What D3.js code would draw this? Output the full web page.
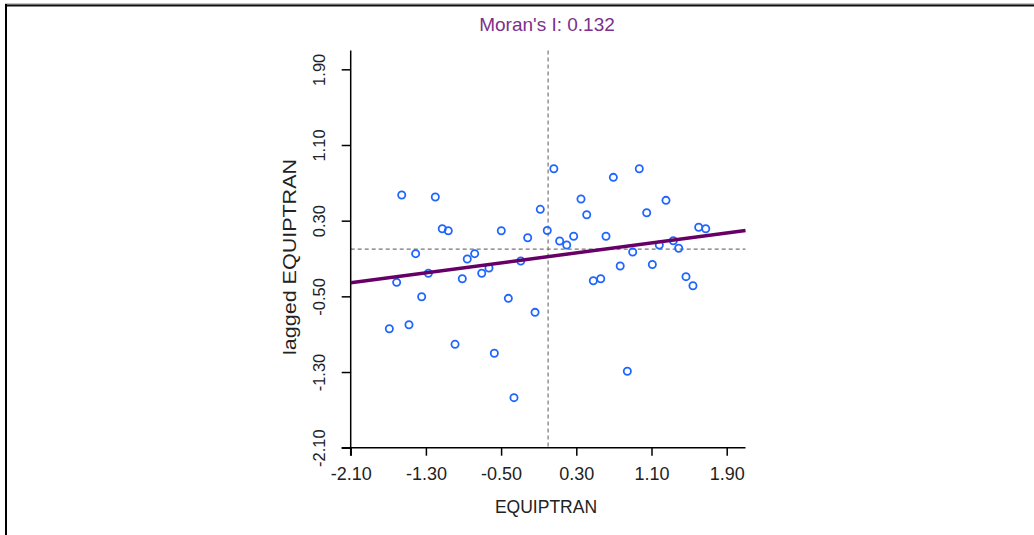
<!DOCTYPE html>
<html>
<head>
<meta charset="utf-8">
<script src="https://cdn.jsdelivr.net/npm/d3@7/dist/d3.min.js"></script>
<style>
  html, body { margin: 0; padding: 0; background: #fff; }
  svg { display: block; }
  text { font-family: "Liberation Sans", Arial, sans-serif; }
</style>
</head>
<body>
<svg id="chart" width="1034" height="535"></svg>
<script>
// ---- data ----
const titleText = "Moran's I: 0.132";
const xLabel = "EQUIPTRAN";
const yLabel = "lagged EQUIPTRAN";
const tickValues = [-2.10, -1.30, -0.50, 0.30, 1.10, 1.90];
const xValues = [-1.557, -1.200, -1.126, -1.062, -0.498, -0.217, -0.083, -0.009, 0.061, -1.409,
                 -0.860, -0.781, -0.291, 0.694, 0.970, 0.350, 1.254, 0.411, 1.049, 0.123,
                 0.198, 0.272, 0.616, 1.602, 1.677, 1.332, 1.389, 1.183, 0.900, 0.767,
                 1.109, -1.274, -1.611, -0.913, -0.706, -0.629, -1.345, -0.423, -0.139, -1.689,
                 -1.480, -0.990, -0.572, -0.363, 0.481, 0.560, 1.467, 1.541, 0.843];
const yValues = [0.571, 0.550, 0.215, 0.194, 0.194, 0.120, 0.420, 0.196, 0.849, -0.049,
                 -0.105, -0.049, -0.126, 0.758, 0.849, 0.529, 0.515, 0.363, 0.384, 0.085,
                 0.043, 0.135, 0.135, 0.230, 0.215, 0.088, 0.008, 0.043, -0.031, -0.179,
                 -0.163, -0.256, -0.352, -0.314, -0.256, -0.200, -0.504, -0.521, -0.669, -0.842,
                 -0.800, -1.007, -1.102, -1.571, -0.335, -0.314, -0.292, -0.388, -1.292];
const axisDomain = [-2.1, 2.1];
const regSlope = 0.132;
const regIntercept = -0.08;

// ---- layout ----
const svg = d3.select("#chart");
const x = d3.scaleLinear().domain(axisDomain).range([350.7, 745.5]);
const y = d3.scaleLinear().domain(axisDomain).range([447.7, 50.4]);

// frame
svg.append("line").attr("x1", 5).attr("x2", 1034).attr("y1", 4).attr("y2", 4)
  .attr("stroke", "#888").attr("stroke-width", 1);
svg.append("line").attr("x1", 5).attr("x2", 1034).attr("y1", 5.5).attr("y2", 5.5)
  .attr("stroke", "#111").attr("stroke-width", 2);
svg.append("line").attr("x1", 6).attr("x2", 6).attr("y1", 4).attr("y2", 535)
  .attr("stroke", "#000").attr("stroke-width", 2);

// title
svg.append("text").attr("x", 547).attr("y", 24).attr("dy", "0.35em")
  .attr("text-anchor", "middle").attr("font-size", 19).attr("fill", "#7d2f8c")
  .text(titleText);

// dashed reference lines at 0
svg.append("line").attr("x1", x(0)).attr("x2", x(0)).attr("y1", y(2.1)).attr("y2", y(-2.1))
  .attr("stroke", "#777").attr("stroke-width", 1.2).attr("stroke-dasharray", "4,3");
svg.append("line").attr("x1", x(-2.1)).attr("x2", x(2.1)).attr("y1", y(0)).attr("y2", y(0))
  .attr("stroke", "#777").attr("stroke-width", 1.2).attr("stroke-dasharray", "4,3");

// axes
const fmt = d => d3.format(".2f")(d).replace("\u2212", "-");
const xAxis = svg.append("g").attr("transform", `translate(0,${y(-2.1)})`)
  .call(d3.axisBottom(x).tickValues(tickValues).tickFormat(fmt).tickSize(8).tickSizeOuter(0));
xAxis.select(".domain").remove();
xAxis.selectAll(".tick line").attr("stroke", "#000").attr("stroke-width", 1.5);
xAxis.selectAll(".tick text").attr("y", 26).attr("dy", "0.35em")
  .attr("font-size", 18).attr("fill", "#222").attr("font-family", "Liberation Sans, Arial, sans-serif");

const yAxis = svg.append("g").attr("transform", `translate(${x(-2.1)},0)`)
  .call(d3.axisLeft(y).tickValues(tickValues).tickFormat(fmt).tickSize(9).tickSizeOuter(0));
yAxis.select(".domain").remove();
yAxis.selectAll(".tick line").attr("stroke", "#000").attr("stroke-width", 1.5);
yAxis.selectAll(".tick text")
  .attr("x", 0).attr("y", 0).attr("dy", "0.35em")
  .attr("text-anchor", "middle")
  .attr("transform", "translate(-31,0) rotate(-90)")
  .attr("font-size", 16.5).attr("fill", "#222").attr("font-family", "Liberation Sans, Arial, sans-serif");

// axis lines (crossing at origin)
svg.append("line").attr("x1", x(-2.1) - 9).attr("x2", x(2.1)).attr("y1", y(-2.1)).attr("y2", y(-2.1))
  .attr("stroke", "#000").attr("stroke-width", 1.5);
svg.append("line").attr("x1", x(-2.1)).attr("x2", x(-2.1)).attr("y1", y(2.1)).attr("y2", y(-2.1) + 8)
  .attr("stroke", "#000").attr("stroke-width", 1.5);

// axis labels
svg.append("text").attr("x", 546).attr("y", 507).attr("dy", "0.35em")
  .attr("text-anchor", "middle").attr("font-size", 17.5).attr("fill", "#222").text(xLabel);
svg.append("text").attr("transform", "translate(290,257) rotate(-90)").attr("dy", "0.35em")
  .attr("text-anchor", "middle").attr("font-size", 18.5)
  .attr("textLength", 196).attr("lengthAdjust", "spacingAndGlyphs")
  .attr("fill", "#222").text(yLabel);

// points
const pts = xValues.map((v, i) => ({x: v, y: yValues[i]}));
svg.append("g").selectAll("circle").data(pts).join("circle")
  .attr("cx", d => x(d.x)).attr("cy", d => y(d.y)).attr("r", 3.6)
  .attr("fill", "none").attr("stroke", "#1f66ff").attr("stroke-width", 1.8);

// regression line
const line = d3.line().x(d => x(d)).y(d => y(regIntercept + regSlope * d));
svg.append("path").datum(axisDomain).attr("d", line)
  .attr("fill", "none").attr("stroke", "#660066").attr("stroke-width", 3.5);
</script>
</body>
</html>
